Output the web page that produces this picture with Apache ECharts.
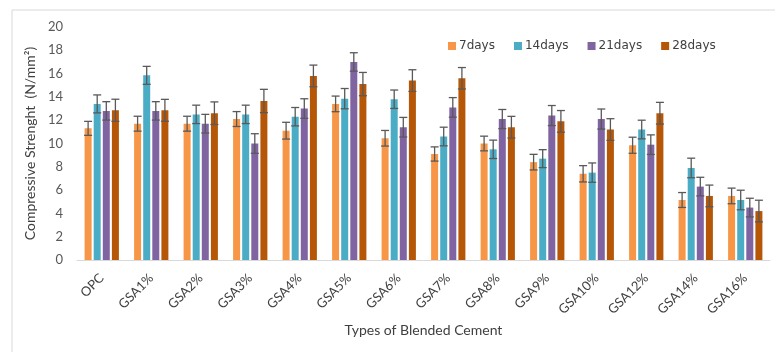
<!DOCTYPE html>
<html>
<head>
<meta charset="utf-8">
<script src="https://cdn.jsdelivr.net/npm/echarts@6/dist/echarts.min.js"></script>
<style>
html,body{margin:0;padding:0;background:#fff;}
#chart{width:775px;height:352px;}
</style>
</head>
<body>
<div id="chart"></div>
<script>
var categories = ['OPC','GSA1%','GSA2%','GSA3%','GSA4%','GSA5%','GSA6%','GSA7%','GSA8%','GSA9%','GSA10%','GSA12%','GSA14%','GSA16%'];
var seriesNames = ['7days','14days','21days','28days'];
var days7  = [11.3, 11.7, 11.7, 12.1, 11.1, 13.4, 10.45, 9.1, 10.0, 8.4, 7.4, 9.85, 5.15, 5.5];
var days14 = [13.4, 15.85, 12.5, 12.5, 12.3, 13.85, 13.8, 10.6, 9.5, 8.7, 7.5, 11.2, 7.9, 5.15];
var days21 = [12.8, 12.8, 11.7, 10.0, 13.0, 17.0, 11.4, 13.1, 12.1, 12.4, 12.1, 9.9, 6.3, 4.5];
var days28 = [12.85, 12.85, 12.6, 13.65, 15.8, 15.1, 15.4, 15.6, 11.4, 11.9, 11.2, 12.6, 5.5, 4.2];
var err7  = [0.6, 0.64, 0.64, 0.64, 0.72, 0.67, 0.67, 0.61, 0.63, 0.67, 0.7, 0.69, 0.64, 0.67];
var err14 = [0.77, 0.77, 0.79, 0.79, 0.79, 0.87, 0.79, 0.8, 0.79, 0.77, 0.83, 0.8, 0.84, 0.84];
var err21 = [0.79, 0.79, 0.8, 0.84, 0.84, 0.79, 0.84, 0.84, 0.82, 0.86, 0.86, 0.84, 0.8, 0.8];
var err28 = [0.95, 0.94, 0.97, 1.0, 0.93, 1.0, 0.93, 0.92, 0.93, 0.93, 0.93, 0.93, 0.93, 0.93];
var yTicks = [0, 2, 4, 6, 8, 10, 12, 14, 16, 18, 20];

var colors = ['#F79646', '#4BACC6', '#8064A2', '#B65708'];
var values = [days7, days14, days21, days28];
var errors = [err7, err14, err21, err28];
var BAR_W = 7, BAR_GAP = 2.1;

var chart = echarts.init(document.getElementById('chart'));
var series = [];
values.forEach(function (vals, i) {
  series.push({
    name: seriesNames[i], type: 'bar', data: vals,
    barWidth: BAR_W, barGap: (BAR_GAP / BAR_W * 100) + '%',
    itemStyle: { color: colors[i] }, z: 2
  });
});
values.forEach(function (vals, i) {
  series.push({
    type: 'custom', name: seriesNames[i] + '_err', z: 5, silent: true,
    data: vals.map(function (v, k) { return [k, v, errors[i][k]]; }),
    renderItem: function (params, api) {
      var idx = api.value(0), v = api.value(1), e = api.value(2);
      var total = 4 * BAR_W + 3 * BAR_GAP;
      var c = api.coord([idx, v]);
      var x = c[0] - total / 2 + BAR_W / 2 + i * (BAR_W + BAR_GAP);
      var yt = api.coord([idx, v + e])[1];
      var yb = api.coord([idx, v - e])[1];
      var cap = 4;
      var st = { stroke: '#595959', lineWidth: 1.3 };
      return { type: 'group', children: [
        { type: 'line', shape: { x1: x, y1: yt, x2: x, y2: yb }, style: st },
        { type: 'line', shape: { x1: x - cap, y1: yt, x2: x + cap, y2: yt }, style: st },
        { type: 'line', shape: { x1: x - cap, y1: yb, x2: x + cap, y2: yb }, style: st }
      ]};
    }
  });
});

chart.setOption({
  animation: false,
  textStyle: { fontFamily: 'Lato' },
  graphic: [{ type: 'rect', shape: { x: 12, y: 10, width: 775, height: 360 }, style: { fill: 'none', stroke: '#D9D9D9', lineWidth: 1 }, silent: true }],
  legend: {
    data: seriesNames, top: 35, left: 443, itemWidth: 8, itemHeight: 8, itemGap: 19,
    icon: 'rect', textStyle: { fontFamily: 'DejaVu Sans', fontSize: 12, color: '#404040', padding: [0, 0, 0, -2] }
  },
  grid: { left: 77, right: 5, top: 27, bottom: 92, containLabel: false },
  xAxis: {
    type: 'category', data: categories,
    name: 'Types of Blended Cement', nameLocation: 'middle', nameGap: 61,
    nameTextStyle: { fontSize: 14, color: '#404040', fontFamily: 'Lato' },
    axisLine: { lineStyle: { color: '#D9D9D9' } },
    axisTick: { show: false },
    axisLabel: { rotate: 45, margin: 16, fontSize: 13, color: '#404040', interval: 0 }
  },
  yAxis: {
    type: 'value', min: 0, max: 20, interval: 2,
    name: 'Compressive Strenght  (N/mm²)', nameLocation: 'middle', nameGap: 40,
    nameTextStyle: { fontSize: 14, color: '#404040', fontFamily: 'Lato' },
    axisLine: { show: false }, axisTick: { show: false },
    splitLine: { show: false },
    axisLabel: { fontSize: 13, color: '#595959', margin: 14,
      formatter: function (v) { return yTicks.indexOf(v) >= 0 ? String(v) : ''; } }
  },
  series: series
});
</script>
</body>
</html>
